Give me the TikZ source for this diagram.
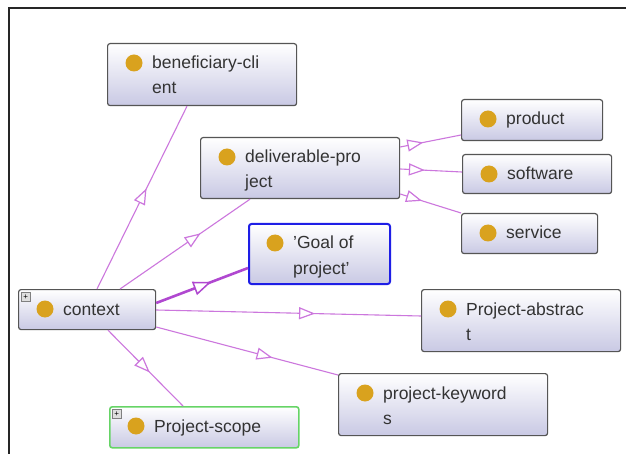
\documentclass[tikz,border=0pt]{standalone}
\usepackage{fontspec}
\setmainfont{Liberation Sans}
\usetikzlibrary{arrows.meta,decorations.markings,shadows}
\definecolor{edgec}{HTML}{CC77DD}
\definecolor{edgedark}{HTML}{B048D0}
\definecolor{dotc}{HTML}{D9A21E}
\definecolor{boxbot}{HTML}{C9C9E4}
\definecolor{boxline}{HTML}{555555}
\definecolor{goalblue}{HTML}{1E1EE6}
\definecolor{scopegreen}{HTML}{66D466}
\tikzset{
  clsbox/.style={draw=boxline, line width=1.2pt, rounded corners=2.5pt,
    top color=white, bottom color=boxbot, inner sep=0pt, anchor=north west},
  clsdot/.style={circle, fill=dotc, minimum size=17pt, inner sep=0pt},
  clstext/.style={anchor=base west, inner sep=0pt, font=\fontsize{17.5}{20}\selectfont, text=black!80},
  plusbox/.style={draw=gray, fill=gray!25, minimum size=9pt, inner sep=0pt, anchor=north west,
    font=\fontsize{8}{8}\selectfont},
  edge/.style={draw=edgec, line width=1.1pt},
  tri/.style={postaction={decorate}, decoration={markings,
    mark=at position #1 with {\arrow[edgec]{Triangle[open, fill=white, length=16pt, width=12pt, line width=1.2pt]}}}},
}
\newcommand\clsnode[8]{% name,left,top,right,bottom,line1,line2,extra
  \node[clsbox, minimum width={(#4-#2)*1pt}, minimum height={(#5-#3)*1pt}, #8] (#1) at (#2,#3) {};
  \node[clsdot] (#1-dot) at ([xshift=27pt,yshift=-20pt]#1.north west) {};
  \node[clstext] (#1-l1) at ([xshift=45pt,yshift=-26pt]#1.north west) {#6};
  \node[clstext] (#1-l2) at ([xshift=45pt,yshift=-51pt]#1.north west) {#7};
}
\begin{document}
\begin{tikzpicture}[x=1pt,y=-1pt]
\useasboundingbox (0,0) rectangle (626,454);
\fill[white] (0,0) rectangle (626,454);
% frame
\draw[line width=2pt, black!85] (9,454) -- (9,8) -- (626,8);

\clsnode{ben}{107}{43}{296}{105}{beneficiary-cli}{ent}{}
\clsnode{del}{200}{137}{399}{198}{deliverable-pro}{ject}{}
\clsnode{prod}{461}{99}{602}{140}{product}{}{}
\clsnode{soft}{462}{154}{611}{193}{software}{}{}
\clsnode{serv}{461}{213}{597}{253}{service}{}{}
\clsnode{goal}{248}{223}{389}{283}{'Goal of}{project'}{draw=goalblue, line width=2pt}
\clsnode{ctx}{18}{289}{155}{329}{context}{}{}
\clsnode{abs}{421}{289}{620}{351}{Project-abstrac}{t}{}
\clsnode{kw}{338}{373}{547}{435}{project-keyword}{s}{}
\clsnode{scope}{109}{406}{298}{447}{Project-scope}{}{draw=scopegreen, line width=1.6pt}

\node[plusbox] (ctx-plus) at ([xshift=3pt,yshift=-3pt]ctx.north west) {+};
\node[plusbox] (scope-plus) at ([xshift=3pt,yshift=-3pt]scope.north west) {+};

% edges from context
\path[edge, tri=0.55] ([xshift=79pt]ctx.north west) -- ([xshift=80pt]ben.south west);
\path[edge, tri=0.62] ([xshift=102pt]ctx.north west) -- ([xshift=50pt]del.south west);
\path[draw=edgedark, line width=2.6pt, postaction={decorate}, decoration={markings,
    mark=at position 0.6 with {\arrow[edgedark]{Triangle[open, fill=white, length=18pt, width=14pt, line width=1.5pt]}}}]
  ([yshift=-14pt]ctx.north east) -- ([yshift=-45pt]goal.north west);
\path[edge, tri=0.6] ([yshift=-21pt]ctx.north east) -- ([yshift=-27pt]abs.north west);
\path[edge, tri=0.64] ([yshift=-38pt]ctx.north east) -- ([yshift=-2pt]kw.north west);
\path[edge, tri=0.56] ([xshift=90pt]ctx.south west) -- ([xshift=74pt]scope.north west);
% edges from deliverable
\path[edge, tri=0.38] ([yshift=-10pt]del.north east) -- ([yshift=-36pt]prod.north west);
\path[edge, tri=0.4] ([yshift=-32pt]del.north east) -- ([yshift=-18pt]soft.north west);
\path[edge, tri=0.36] ([yshift=-57pt]del.north east) -- ([yshift=0pt]serv.north west);
\end{tikzpicture}
\end{document}
